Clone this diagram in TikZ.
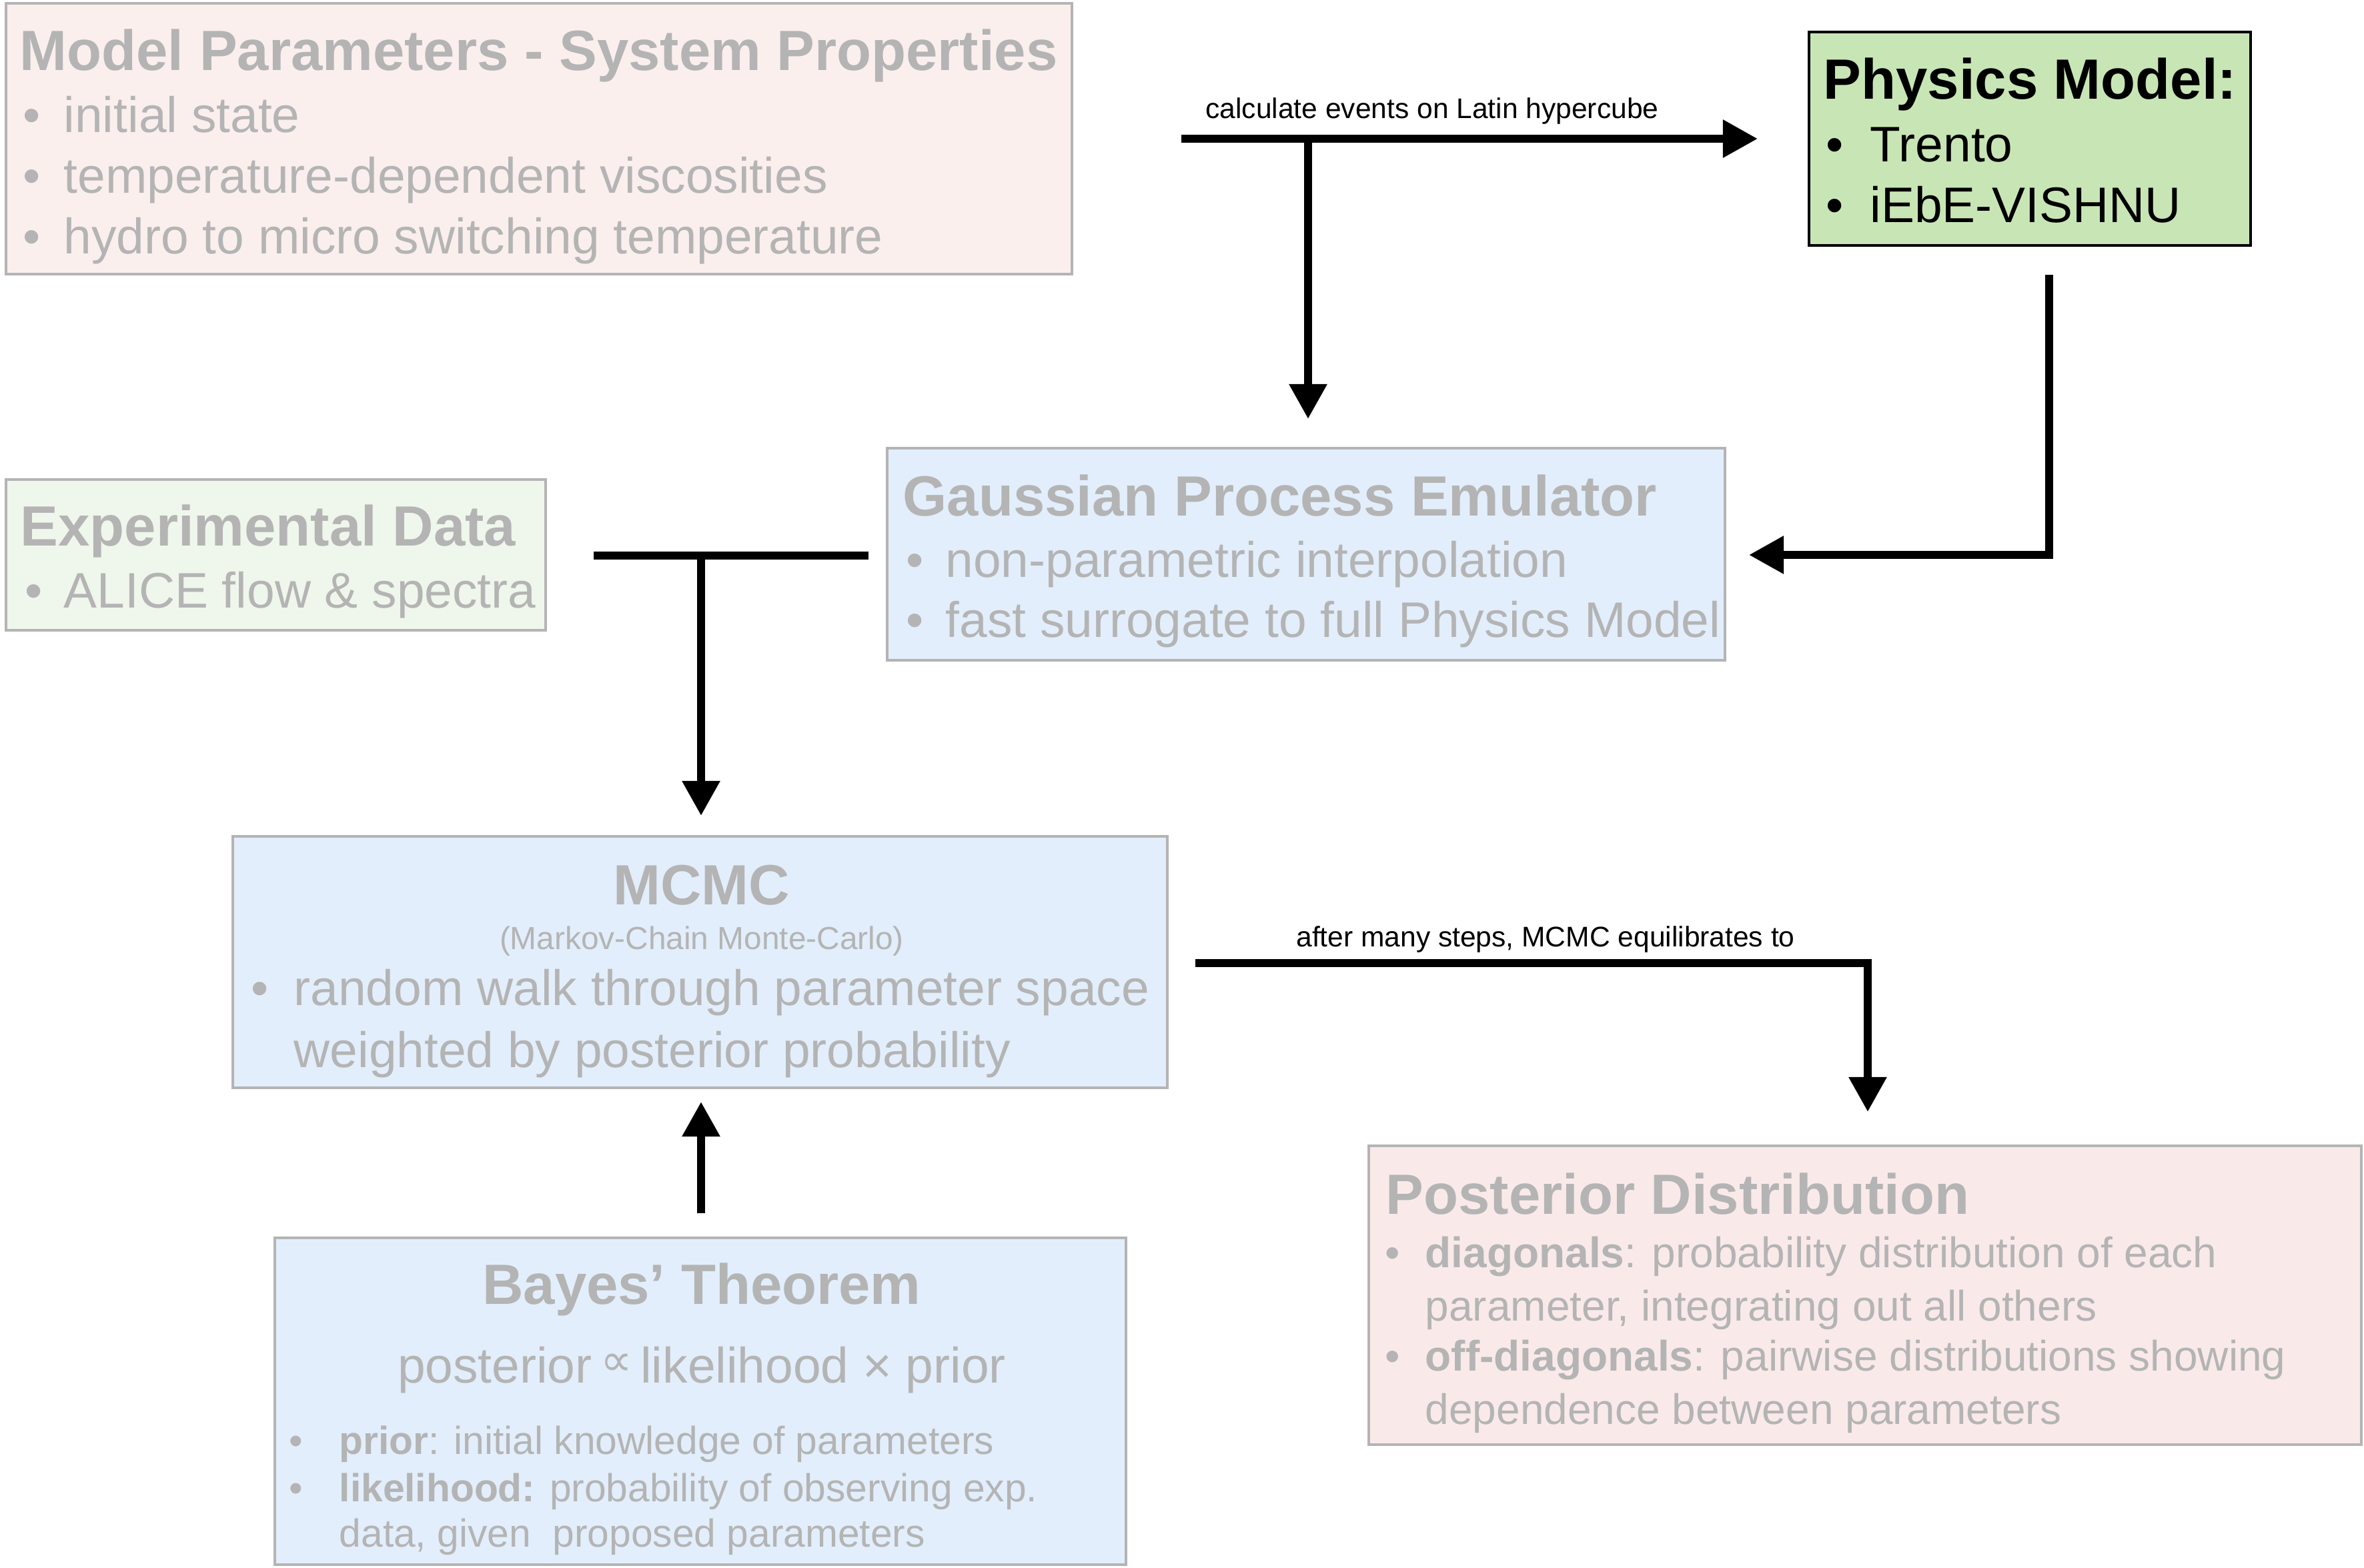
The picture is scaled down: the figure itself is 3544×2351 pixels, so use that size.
\documentclass[tikz,border=0pt]{standalone}
\usepackage{fontspec}
\setmainfont{Liberation Sans}
\newfontfamily\dejavu{DejaVu Sans}
\usetikzlibrary{arrows.meta,fit}
\definecolor{txtgray}{RGB}{180,180,180}
\definecolor{bordgray}{RGB}{180,180,180}
\definecolor{pinkfill}{RGB}{250,239,237}
\definecolor{postfill}{RGB}{249,234,233}
\definecolor{bluefill}{RGB}{226,238,251}
\definecolor{greenfill}{RGB}{239,246,235}
\definecolor{physfill}{RGB}{200,230,181}
\newcommand{\bul}[1]{\llap{•\hspace{#1}}}
\tikzset{
  box/.style={draw=bordgray, line width=1.1pt, inner sep=0pt},
  physbox/.style={draw=black, line width=1.4pt, inner sep=0pt, fill=physfill},
  ttl/.style={anchor=base west, inner sep=0pt, text=txtgray, font=\fontsize{24.2pt}{29pt}\selectfont\bfseries},
  body/.style={anchor=base west, inner sep=0pt, text=txtgray, font=\fontsize{21.3pt}{26pt}\selectfont},
  postbody/.style={anchor=base west, inner sep=0pt, text=txtgray, font=\fontsize{18.2pt}{22pt}\selectfont},
  bayesbody/.style={anchor=base west, inner sep=0pt, text=txtgray, font=\fontsize{16.7pt}{20pt}\selectfont},
  lbl/.style={anchor=base, inner sep=0pt, text=black, font=\fontsize{12.1pt}{14pt}\selectfont},
  wire/.style={line width=3.3pt, draw=black},
  conn/.style={wire, -{Triangle[length=14.8pt,width=15.4pt]}}
}
\begin{document}
\begin{tikzpicture}[x=0.01cm,y=-0.01cm]
\useasboundingbox (0,0) rectangle (3544,2351);
\fill[white] (0,0) rectangle (3544,2351);

% boxes
\node[box, fill=pinkfill, fit={(9,5) (1607,411)}] (mp) {};
\node[physbox, fit={(2712,48) (3374,368)}] (phys) {};
\node[box, fill=greenfill, fit={(9,719) (818,945)}] (exp) {};
\node[box, fill=bluefill, fit={(1330,672) (2586,990)}] (emu) {};
\node[box, fill=bluefill, fit={(349,1254) (1750,1631)}] (mcmc) {};
\node[box, fill=bluefill, fit={(412,1856) (1688,2346)}] (bayes) {};
\node[box, fill=postfill, fit={(2052,1718) (3540,2166)}] (post) {};

% Model parameters
\node[ttl] (mpT) at (29,105) {Model Parameters - System Properties};
\node[body] (mp1) at (95,198) {\bul{0.35cm}initial state};
\node[body] (mp2) at (95,289) {\bul{0.35cm}temperature-dependent viscosities};
\node[body] (mp3) at (95,380) {\bul{0.35cm}hydro to micro switching temperature};

% Physics model
\node[ttl, text=black] (phT) at (2733,148) {Physics Model:};
\node[body, text=black] (ph1) at (2803,242) {\bul{0.40cm}Trento};
\node[body, text=black] (ph2) at (2803,333) {\bul{0.40cm}iEbE-VISHNU};

% Experimental data
\node[ttl] (exT) at (30,818) {Experimental Data};
\node[body] (ex1) at (95,911) {\bul{0.32cm}ALICE flow \& spectra};

% Emulator
\node[ttl] (emT) at (1353,773) {Gaussian Process Emulator};
\node[body] (em1) at (1417,865) {\bul{0.33cm}non-parametric interpolation};
\node[body] (em2) at (1417,955) {\bul{0.33cm}fast surrogate to full Physics Model};

% MCMC
\node[ttl, anchor=base] (mcT) at (1052,1356) {MCMC};
\node[anchor=base, inner sep=0pt, text=txtgray, font=\fontsize{13.6pt}{16pt}\selectfont] (mcS) at (1052,1423) {(Markov-Chain Monte-Carlo)};
\node[body] (mc1) at (440,1507) {\bul{0.38cm}random walk through parameter space};
\node[body] (mc2) at (440,1600) {weighted by posterior probability};

% Bayes
\node[ttl, anchor=base] (bT) at (1052,1955) {Bayes’ Theorem};
\node[body, anchor=base] (bF) at (1052,2073) {posterior\,{\dejavu\fontsize{19pt}{19pt}\selectfont\raisebox{0.3ex}{∝}}\,likelihood × prior};
\node[bayesbody] (b1) at (508,2180) {\bul{0.55cm}\textbf{prior}: initial knowledge of parameters};
\node[bayesbody] (b2) at (508,2251) {\bul{0.55cm}\textbf{likelihood:} probability of observing exp.};
\node[bayesbody] (b3) at (508,2319) {data, given\ \ proposed parameters};

% Posterior
\node[ttl] (poT) at (2077,1820) {Posterior Distribution};
\node[postbody] (po1) at (2136,1900) {\bul{0.38cm}\textbf{diagonals}: probability distribution of each};
\node[postbody] (po2) at (2136,1980) {parameter, integrating out all others};
\node[postbody] (po3) at (2136,2055) {\bul{0.38cm}\textbf{off-diagonals}: pairwise distributions showing};
\node[postbody] (po4) at (2136,2135) {dependence between parameters};

% connectors
\coordinate (a1s) at (1771,208);
\coordinate (a1e) at (2635,208);
\draw[conn] (a1s) -- (a1e);
\node[lbl] (l1) at (2147,177) {calculate events on Latin hypercube};
\coordinate (a2s) at (1961,208);
\coordinate (a2e) at (1961,628);
\draw[conn] (a2s) -- (a2e);

\coordinate (a3s) at (3072,412);
\coordinate (a3e) at (2622,832);
\draw[conn] (a3s) |- (a3e);

\coordinate (t1) at (890,833);
\coordinate (t2) at (1302,833);
\draw[wire] (t1) -- (t2);
\coordinate (t3) at (1051,833);
\coordinate (t4) at (1051,1223);
\draw[conn] (t3) -- (t4);

\coordinate (u1) at (1051,1819);
\coordinate (u2) at (1051,1652);
\draw[conn] (u1) -- (u2);

\coordinate (m1) at (1792,1444);
\coordinate (m2) at (2800,1667);
\draw[conn] (m1) -| (m2);
\node[lbl] (l2) at (2317,1419) {after many steps, MCMC equilibrates to};
\end{tikzpicture}
\end{document}
